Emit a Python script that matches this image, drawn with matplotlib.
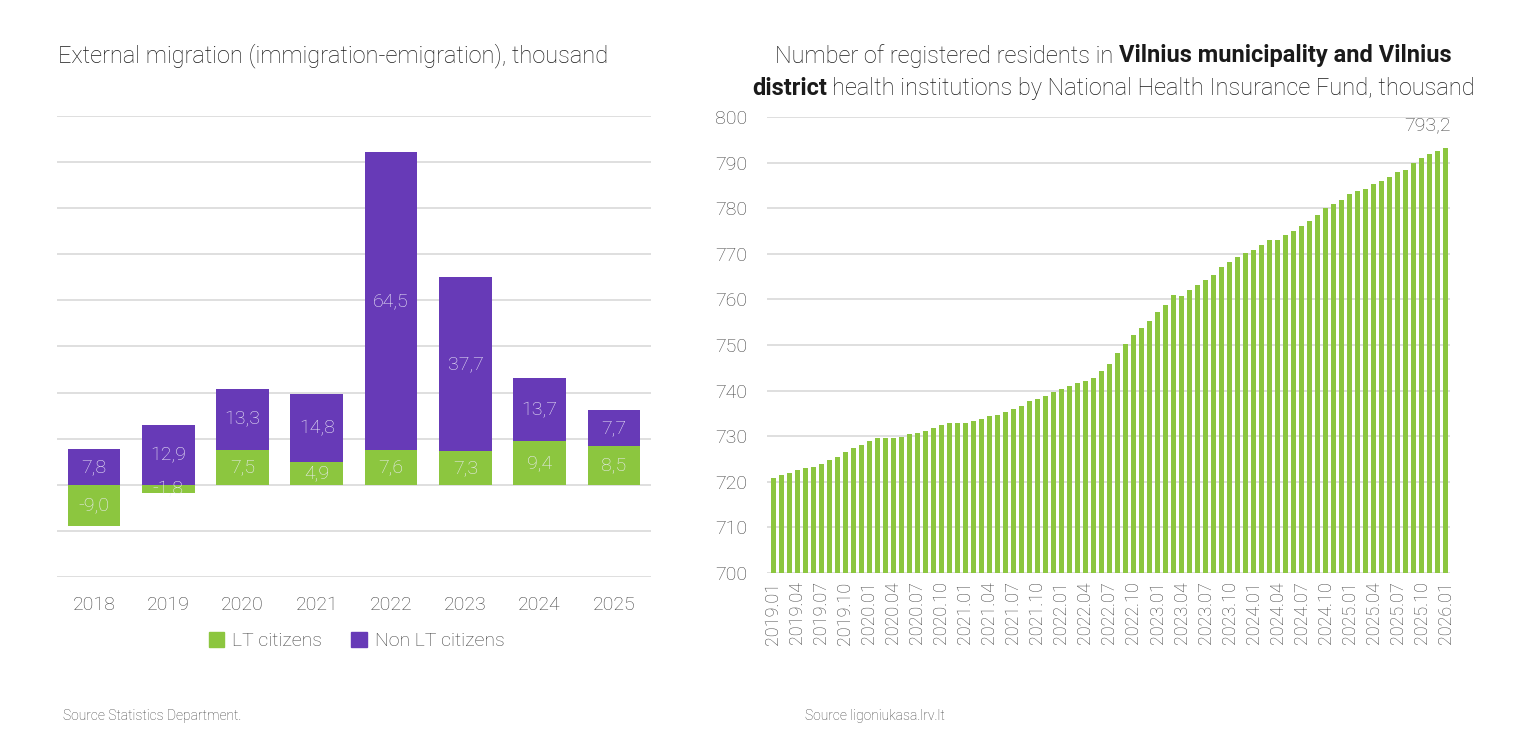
import matplotlib
matplotlib.use('Agg')
import matplotlib.pyplot as plt
from matplotlib.patches import Patch

plt.rcParams['font.family'] = ['Roboto', 'DejaVu Sans']
plt.rcParams['font.weight'] = 'light'

# left chart data
years = ['2018', '2019', '2020', '2021', '2022', '2023', '2024', '2025']
lt_citizens = [-9.0, -1.8, 7.5, 4.9, 7.6, 7.3, 9.4, 8.5]
non_lt_citizens = [7.8, 12.9, 13.3, 14.8, 64.5, 37.7, 13.7, 7.7]

# right chart data (thousand), monthly 2019.01 - 2026.01
residents = [
    720.9, 721.5, 722.0, 722.5, 723.0, 723.2, 723.9, 724.7, 725.5, 726.6, 727.5, 728.0,
    728.9, 729.5, 729.7, 729.7, 729.9, 730.5, 730.6, 731.2, 731.7, 732.4, 732.8, 732.8,
    732.9, 733.3, 733.8, 734.4, 734.7, 735.3, 735.9, 736.7, 737.7, 738.2, 738.9, 739.6,
    740.4, 741.0, 741.7, 742.0, 742.8, 744.2, 745.8, 748.2, 750.3, 752.1, 753.8, 755.2,
    757.2, 758.7, 760.9, 760.7, 762.0, 763.2, 764.2, 765.4, 767.0, 768.3, 769.3, 770.1,
    770.8, 771.9, 773.0, 773.0, 774.2, 774.9, 776.0, 777.2, 778.5, 780.0, 781.0, 781.8,
    783.2, 783.7, 784.3, 785.2, 786.0, 786.9, 787.9, 788.4, 789.9, 791.1, 791.9, 792.6,
    793.2,
]
months = ['%d.%02d' % (2019 + i // 12, i % 12 + 1) for i in range(len(residents))]

green = '#8cc63f'
purple = '#673ab7'
grid_c = '#d9d9d9'
txt_c = '#404040'
lbl_c = '#f0eefa'

fig = plt.figure(figsize=(15.37, 7.29), dpi=100)

# ---- left: external migration ----
ax1 = fig.add_axes([0.037, 0.2085, 0.3866, 0.6324])
x = list(range(len(years)))
base = [max(v, 0) for v in lt_citizens]
ax1.bar(x, lt_citizens, width=0.71, color=green, zorder=3)
ax1.bar(x, non_lt_citizens, bottom=base, width=0.71, color=purple, zorder=3)
for i in x:
    ax1.text(i, lt_citizens[i] / 2, ('%.1f' % lt_citizens[i]).replace('.', ','),
             ha='center', va='center', color=lbl_c, fontsize=14, zorder=4)
    ax1.text(i, base[i] + non_lt_citizens[i] / 2, ('%.1f' % non_lt_citizens[i]).replace('.', ','),
             ha='center', va='center', color=lbl_c, fontsize=14, zorder=4)
ax1.set_xlim(-0.5, len(years) - 0.5)
ax1.set_ylim(-20, 80)
ax1.set_yticks(range(-20, 81, 10))
ax1.set_yticklabels([])
ax1.tick_params(axis='y', length=0)
ax1.set_xticks(x)
ax1.set_xticklabels(years, fontsize=14, color=txt_c)
ax1.tick_params(axis='x', length=0, pad=14)
ax1.grid(axis='y', color=grid_c, linewidth=1.2, zorder=0)
for s in ax1.spines.values():
    s.set_visible(False)

fig.legend(handles=[Patch(color=green, label='LT citizens'),
                    Patch(color=purple, label='Non LT citizens')],
           loc='center', bbox_to_anchor=(0.232, 0.121), ncol=2, frameon=False,
           fontsize=14, handlelength=0.8, handleheight=0.8, handletextpad=0.4,
           columnspacing=1.5, labelcolor=txt_c)

fig.text(0.038, 0.924, 'External migration (immigration-emigration), thousand',
         fontsize=17, color='#1a1a1a', va='center')
fig.text(0.041, 0.013, 'Source Statistics Department.', fontsize=10, color=txt_c)

# ---- right: registered residents ----
ax2 = fig.add_axes([0.499, 0.214, 0.4444, 0.6255])
ax2.bar(range(len(residents)), residents, width=0.63, color=green, zorder=3)
ax2.set_xlim(-0.8, len(residents) - 0.45)
ax2.set_ylim(700, 800)
ax2.set_yticks(range(700, 801, 10))
ax2.tick_params(axis='y', length=0, labelsize=14, labelcolor=txt_c, pad=14)
ax2.set_xticks(range(0, len(residents), 3))
ax2.set_xticklabels(months[::3], rotation=90, fontsize=13, color=txt_c)
ax2.tick_params(axis='x', length=0, pad=6)
ax2.grid(axis='y', color=grid_c, linewidth=1.2, zorder=0)
for s in ax2.spines.values():
    s.set_visible(False)
last = len(residents) - 1
ax2.annotate(('%.1f' % residents[last]).replace('.', ','), (last, residents[last]),
             xytext=(4, 10), textcoords='offset points', ha='right', va='bottom',
             fontsize=14, color=txt_c)

fig.text(0.524, 0.013, 'Source ligoniukasa.lrv.lt', fontsize=10, color=txt_c)

# two-line title with bold parts
title_lines = [
    (0.9235, [('Number of registered residents in', 'light'),
              ('Vilnius municipality and Vilnius', 'bold')]),
    (0.879, [('district', 'bold'),
             ('health institutions by National Health Insurance Fund, thousand', 'light')]),
]
cx = 0.7245
fig.canvas.draw()
r = fig.canvas.get_renderer()
probe = fig.text(0, 0, 'x x', fontsize=17)
probe2 = fig.text(0, 0, 'xx', fontsize=17)
space = (probe.get_window_extent(r).width - probe2.get_window_extent(r).width) / fig.bbox.width
probe.remove()
probe2.remove()
for y, parts in title_lines:
    items = [fig.text(0, y, s, fontsize=17, fontweight=w, color='#1a1a1a', va='center')
             for s, w in parts]
    widths = [t.get_window_extent(r).width / fig.bbox.width for t in items]
    total = sum(widths) + space * (len(items) - 1)
    xx = cx - total / 2
    for t, w in zip(items, widths):
        t.set_x(xx)
        xx += w + space

fig.savefig('out.png', dpi=100)
